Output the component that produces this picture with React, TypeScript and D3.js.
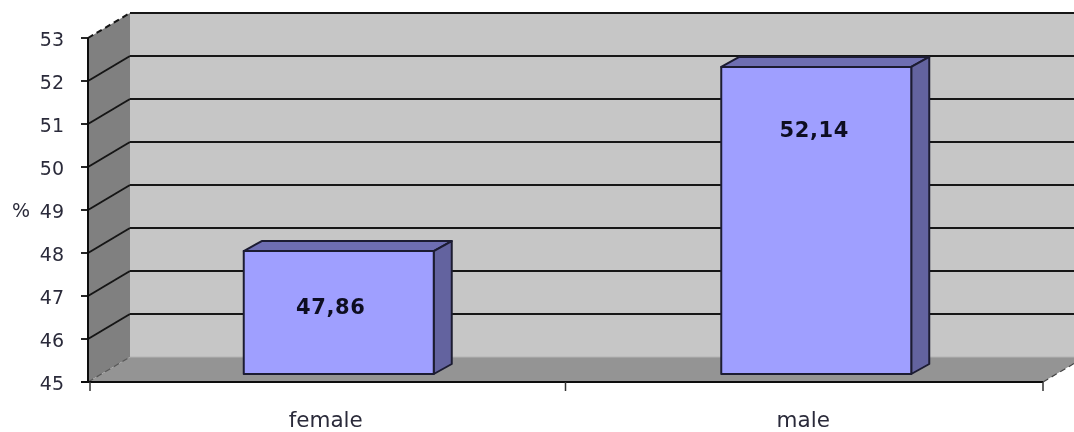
import React from "react";
import * as d3 from "d3";

const categories = ["female", "male"];
const values = [47.86, 52.14];
const valueLabels = ["47,86", "52,14"];
const yTicks = [45, 46, 47, 48, 49, 50, 51, 52, 53];
const yUnit = "%";

const W = 1074, H = 432;
const X0 = 88, X1 = 1043;
const DX = 42, DY = -25;
const BDX = 18, BDY = -10;
const FONT = "'DejaVu Sans', Verdana, sans-serif";
const INK = "#2b2b3a";

const y = d3.scaleLinear().domain([45, 53]).range([382, 38]);
const x = d3.scaleBand<string>().domain(categories).range([X0, X1]);
const bw = 190;

export default function App() {
  const yTop = y(53), yBot = y(45);
  const pts = (a: number[][]) => a.map((p) => p.join(",")).join(" ");
  return (
    <svg width={W} height={H} viewBox={`0 0 ${W} ${H}`} style={{ position: "absolute", left: 0, top: 0, background: "#fff" }}>
      <defs>
        <filter id="soft" x="-5%" y="-5%" width="110%" height="110%">
          <feGaussianBlur stdDeviation="0.6" />
        </filter>
      </defs>
      <g filter="url(#soft)">
        <rect x={X0 + DX} y={yTop + DY} width={W - X0 - DX + 20} height={yBot - yTop} fill="#c6c6c6" />
        <polygon points={pts([[X0, yTop], [X0 + DX, yTop + DY], [X0 + DX, yBot + DY], [X0, yBot]])} fill="#808080" />
        <polygon points={pts([[X0, yBot], [X0 + DX, yBot + DY], [X1 + DX, yBot + DY], [X1, yBot]])} fill="#949494" />
        {yTicks.map((t) => {
          const yy = y(t);
          const edge = t === 45;
          return (
            <g key={t} fill="none" stroke={edge ? "#555" : "#151515"} strokeWidth={edge ? 1.2 : 2}>
              <line x1={X0} y1={yy} x2={X0 + DX} y2={yy + DY} strokeDasharray={edge || t === 53 ? "6 4" : undefined} />
              <line x1={X0 + DX} y1={yy + DY} x2={W + 5} y2={yy + DY} stroke={edge ? "#b4b4b4" : "#151515"} />
            </g>
          );
        })}
        <line x1={X1} y1={yBot} x2={X1 + DX} y2={yBot + DY} stroke="#444" strokeWidth={1.2} strokeDasharray="6 4" />
        <line x1={X0} y1={yTop} x2={X0} y2={yBot} stroke="#111" strokeWidth={2} />
        <line x1={X0 - 7} y1={yBot} x2={X1} y2={yBot} stroke="#111" strokeWidth={2} />
        {yTicks.map((t) => (
          <line key={t} x1={X0 - 7} y1={y(t)} x2={X0} y2={y(t)} stroke="#111" strokeWidth={1.8} />
        ))}
        {[...categories.map((c) => x(c)!), X1].map((p, i) => (
          <line key={i} x1={p + (i === 0 ? 2 : 0)} y1={yBot} x2={p + (i === 0 ? 2 : 0)} y2={yBot + 9} stroke="#333" strokeWidth={1.5} />
        ))}
        {categories.map((c, i) => {
          const left = x(c)! + x.bandwidth() / 2 + 12 - bw / 2;
          const right = left + bw;
          const top = y(values[i]) - 8;
          const bot = y(45) - 8;
          return (
            <g key={c} stroke="#1c1c33" strokeWidth={2} strokeLinejoin="round">
              <polygon points={pts([[left, top], [left + BDX, top + BDY], [right + BDX, top + BDY], [right, top]])} fill="#6e6eb2" />
              <polygon points={pts([[right, top], [right + BDX, top + BDY], [right + BDX, bot + BDY], [right, bot]])} fill="#64649f" />
              <rect x={left} y={top} width={bw} height={bot - top} fill="#9f9fff" />
            </g>
          );
        })}
        {categories.map((c, i) => {
          const left = x(c)! + x.bandwidth() / 2 + 12 - bw / 2;
          const top = y(values[i]) - 8;
          const bot = y(45) - 8;
          const baseline = i === 0 ? (top + bot) / 2 + 1 : top + 70;
          const cx = left + bw / 2 + (i === 0 ? -8 : -2);
          return (
            <text key={c} x={cx} y={baseline} textAnchor="middle" fontFamily={FONT} fontWeight="bold" fontSize={21} letterSpacing={0.6} fill="#111122">
              {valueLabels[i]}
            </text>
          );
        })}
        {yTicks.map((t) => (
          <text key={t} x={64} y={y(t) + 8} textAnchor="end" fontFamily={FONT} fontSize={19} fill={INK}>
            {t}
          </text>
        ))}
        <text x={12} y={217} fontFamily={FONT} fontSize={19} fill={INK}>{yUnit}</text>
        {categories.map((c) => (
          <text key={c} x={x(c)! + x.bandwidth() / 2 - 1} y={427} textAnchor="middle" fontFamily={FONT} fontSize={21.5} fill={INK}>
            {c}
          </text>
        ))}
      </g>
    </svg>
  );
}
